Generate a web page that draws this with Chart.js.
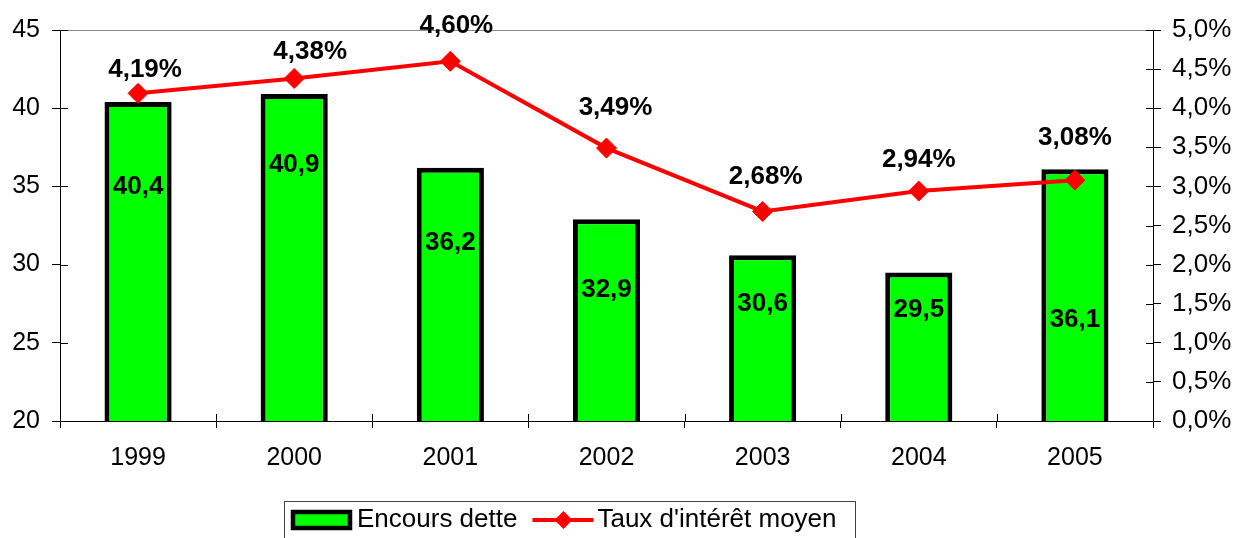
<!DOCTYPE html>
<html>
<head>
<meta charset="utf-8">
<script src="https://cdn.jsdelivr.net/npm/chart.js@4/dist/chart.umd.min.js"></script>
<style>
  html, body { margin: 0; padding: 0; background: #fff; }
</style>
</head>
<body>
<canvas id="chart" width="1238" height="538"></canvas>
<script>
// données
const years = ['1999', '2000', '2001', '2002', '2003', '2004', '2005'];
const encours = [40.4, 40.9, 36.2, 32.9, 30.6, 29.5, 36.1];
const taux = [4.19, 4.38, 4.60, 3.49, 2.68, 2.94, 3.08];
const leftTicks = [20, 25, 30, 35, 40, 45];
const rightTicks = [0, 0.5, 1, 1.5, 2, 2.5, 3, 3.5, 4, 4.5, 5];

// où posent les étiquettes (en unités des axes, comme dans l'original)
const barLabelAt = [35.0, 36.4, 31.4, 28.4, 27.5, 27.1, 26.5];
const rateLabelAt = [4.49, 4.72, 5.05, 4.00, 3.12, 3.34, 3.62];
const rateLabelDx = [7, 16, 6, 9, 3, 0, 0];

const FONT = '"Liberation Sans", Arial, sans-serif';
const frNum = (v, d) => v.toFixed(d).replace('.', ',');

const extras = {
    id: 'extras',
    afterDraw(chart) {
        const ctx = chart.ctx;
        const area = chart.chartArea;
        const yR = chart.scales.yR;
        const y = chart.scales.y;
        ctx.save();

        // petites graduations qui traversent les axes
        ctx.strokeStyle = '#000';
        ctx.lineWidth = 1;
        const step = (area.right - area.left) / years.length;
        for (let i = 0; i <= years.length; i++) {
            const px = Math.round(area.left + i * step) + 0.5;
            ctx.beginPath();
            ctx.moveTo(px, area.bottom - 7);
            ctx.lineTo(px, area.bottom);
            ctx.stroke();
        }
        yR.ticks.forEach(t => {
            const py = Math.round(yR.getPixelForValue(t.value)) + 0.5;
            ctx.beginPath();
            ctx.moveTo(area.right - 7, py);
            ctx.lineTo(area.right, py);
            ctx.stroke();
        });
        y.ticks.forEach(t => {
            const py = Math.round(y.getPixelForValue(t.value)) + 0.5;
            ctx.beginPath();
            ctx.moveTo(area.left, py);
            ctx.lineTo(area.left + 8, py);
            ctx.stroke();
        });

        // étiquettes
        ctx.fillStyle = '#000';
        ctx.font = 'bold 26px ' + FONT;
        ctx.textAlign = 'center';
        ctx.textBaseline = 'middle';
        const barMeta = chart.getDatasetMeta(0);
        const lineMeta = chart.getDatasetMeta(1);
        encours.forEach((v, i) => {
            ctx.fillText(frNum(v, 1), barMeta.data[i].x, y.getPixelForValue(barLabelAt[i]));
        });
        taux.forEach((v, i) => {
            ctx.fillText(frNum(v, 2) + '%', lineMeta.data[i].x + rateLabelDx[i], yR.getPixelForValue(rateLabelAt[i]));
        });

        // légende encadrée
        ctx.strokeStyle = '#444';
        ctx.lineWidth = 1;
        ctx.strokeRect(284.5, 501.5, 571, 45);
        ctx.fillStyle = '#00ff00';
        ctx.fillRect(293, 512, 57, 16);
        ctx.strokeStyle = '#000';
        ctx.lineWidth = 4.5;
        ctx.strokeRect(293, 512, 57, 16);

        ctx.font = '26px ' + FONT;
        ctx.textAlign = 'left';
        ctx.fillStyle = '#000';
        const ly = 520;
        const t1 = chart.data.datasets[0].label;
        ctx.fillText(t1, 357, ly);
        const tx = 357 + ctx.measureText(t1).width + 15;
        ctx.strokeStyle = '#ff0000';
        ctx.lineWidth = 4;
        ctx.beginPath();
        ctx.moveTo(tx, ly);
        ctx.lineTo(tx + 61, ly);
        ctx.stroke();
        ctx.fillStyle = '#ff0000';
        ctx.beginPath();
        ctx.moveTo(tx + 31, ly - 9);
        ctx.lineTo(tx + 40, ly);
        ctx.lineTo(tx + 31, ly + 9);
        ctx.lineTo(tx + 22, ly);
        ctx.closePath();
        ctx.fill();
        ctx.fillStyle = '#000';
        ctx.fillText(chart.data.datasets[1].label, tx + 65, ly);

        ctx.restore();
    }
};

new Chart(document.getElementById('chart'), {
    data: {
        labels: years,
        datasets: [
            {
                type: 'bar',
                label: 'Encours dette',
                data: encours,
                yAxisID: 'y',
                backgroundColor: '#00ff00',
                borderColor: '#000',
                borderWidth: 5,
                borderSkipped: false,
                barPercentage: 0.43,
                categoryPercentage: 1,
                order: 2
            },
            {
                type: 'line',
                label: "Taux d'intérêt moyen",
                data: taux,
                yAxisID: 'yR',
                borderColor: '#ff0000',
                backgroundColor: '#ff0000',
                borderWidth: 4,
                pointStyle: 'rectRot',
                pointRadius: 10,
                pointBorderWidth: 1,
                tension: 0,
                clip: false,
                order: 1
            }
        ]
    },
    plugins: [extras],
    options: {
        responsive: false,
        animation: false,
        layout: { padding: { top: 30, left: 0, right: 0, bottom: 0 } },
        plugins: {
            legend: { display: false },
            tooltip: { enabled: false }
        },
        scales: {
            x: {
                grid: { offset: true, drawOnChartArea: false, tickLength: 7, color: '#000' },
                border: { color: '#000' },
                ticks: { color: '#000', font: { family: FONT, size: 25 }, padding: 15 },
                afterFit: s => { s.height = 117; }
            },
            y: {
                position: 'left',
                min: 20,
                max: 45,
                afterBuildTicks: s => { s.ticks = leftTicks.map(v => ({ value: v })); },
                grid: {
                    color: c => (c.tick && c.tick.value === 45 ? '#888' : 'rgba(0,0,0,0)'),
                    tickColor: '#000',
                    tickLength: 8
                },
                border: { color: '#000' },
                ticks: { color: '#000', font: { family: FONT, size: 25 }, padding: 12 },
                afterFit: s => { s.width = 60; }
            },
            yR: {
                position: 'right',
                min: 0,
                max: 5,
                afterBuildTicks: s => { s.ticks = rightTicks.map(v => ({ value: v })); },
                grid: { drawOnChartArea: false, tickColor: '#000', tickLength: 8 },
                border: { color: '#000' },
                ticks: {
                    color: '#000',
                    font: { family: FONT, size: 26 },
                    padding: 11,
                    callback: v => frNum(v, 1) + '%'
                },
                afterFit: s => { s.width = 85; }
            }
        }
    }
});
</script>
</body>
</html>
